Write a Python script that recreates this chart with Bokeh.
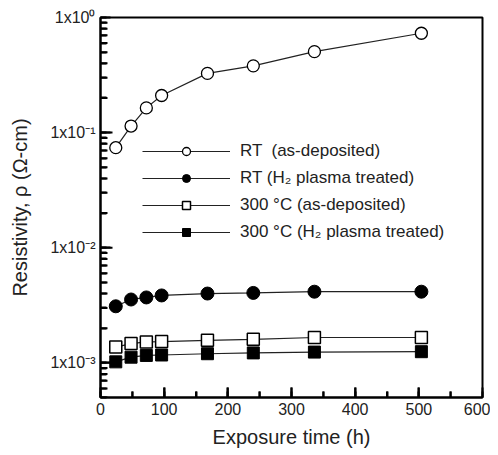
import math
from bokeh.plotting import figure
from bokeh.models import (LogTicker, SingleIntervalTicker, CustomJSTickFormatter,
                          Legend, LegendItem, Arrow, ColumnDataSource)
from bokeh.embed import file_html
from bokeh.resources import INLINE

# ---- data ----
hours = [24, 48, 72, 96, 168, 240, 336, 504]
rt_asdep = [0.074, 0.114, 0.164, 0.21, 0.327, 0.38, 0.505, 0.73]
rt_h2 = [3.1e-3, 3.55e-3, 3.7e-3, 3.85e-3, 4.0e-3, 4.05e-3, 4.15e-3, 4.15e-3]
t300_asdep = [1.37e-3, 1.47e-3, 1.52e-3, 1.53e-3, 1.57e-3, 1.6e-3, 1.66e-3, 1.66e-3]
t300_h2 = [1.02e-3, 1.12e-3, 1.16e-3, 1.17e-3, 1.2e-3, 1.22e-3, 1.24e-3, 1.25e-3]

series_labels = ["RT  (as-deposited)", "RT (H\u2082 plasma treated)",
                 "300 \u00b0C (as-deposited)", "300 \u00b0C (H\u2082 plasma treated)"]
y_tick_values = [1e-3, 1e-2, 1e-1, 1.0]
y_tick_labels = ["1x10\u207b\u00b3", "1x10\u207b\u00b2", "1x10\u207b\u00b9", "1x10\u2070"]
x_tick_values = [0, 100, 200, 300, 400, 500, 600]
x_label = "Exposure time (h)"
y_label = "Resistivity, \u03c1 (\u03a9-cm)"

X_RANGE = (0, 600)
Y_RANGE = (5e-4, 1.0)
FW, FH = 382, 380
FONT = "Liberation Sans"

p = figure(frame_width=FW, frame_height=FH, y_axis_type="log",
           x_range=X_RANGE, y_range=Y_RANGE,
           output_backend="svg", toolbar_location=None,
           min_border_left=100, min_border_right=8, min_border_top=17, min_border_bottom=50)

p.grid.visible = False
p.outline_line_color = "black"
p.outline_line_width = 2

for ax in (p.xaxis[0], p.yaxis[0]):
    ax.axis_line_width = 2
    ax.axis_line_color = "black"
    ax.major_tick_in = 10
    ax.major_tick_out = 0
    ax.minor_tick_in = 6
    ax.minor_tick_out = 0
    ax.major_tick_line_width = 2
    ax.minor_tick_line_width = 2
    ax.major_tick_line_color = "black"
    ax.minor_tick_line_color = "black"
    ax.major_label_text_font = FONT
    ax.major_label_text_font_size = "16px"
    ax.major_label_text_color = "#222222"
    ax.axis_label_text_font = FONT
    ax.axis_label_text_font_size = "20px"
    ax.axis_label_text_font_style = "normal"
    ax.axis_label_text_color = "#222222"

p.xaxis.ticker = SingleIntervalTicker(interval=100, num_minor_ticks=2)
p.yaxis.ticker = LogTicker(num_minor_ticks=10)
p.yaxis.formatter = CustomJSTickFormatter(
    args=dict(vals=y_tick_values, labs=y_tick_labels),
    code="""
    for (let i = 0; i < vals.length; i++) {
        if (Math.abs(Math.log10(tick) - Math.log10(vals[i])) < 1e-6) return labs[i];
    }
    return "";
    """)
p.xaxis.axis_label = x_label
p.yaxis.axis_label = y_label
p.xaxis.axis_label_standoff = 8
p.yaxis.axis_label_standoff = 16

LC = "#222222"
items = []

l1 = p.line(hours, rt_asdep, line_color=LC, line_width=1.2)
s1 = p.scatter(hours, rt_asdep, marker="circle", size=12, fill_color="white",
               line_color="black", line_width=1.3)
l2 = p.line(hours, rt_h2, line_color=LC, line_width=1.2)
s2 = p.scatter(hours, rt_h2, marker="circle", size=13, fill_color="black",
               line_color="black")
l3 = p.line(hours, t300_asdep, line_color=LC, line_width=1.2)
s3 = p.scatter(hours, t300_asdep, marker="square", size=12, fill_color="white",
               line_color="black", line_width=1.5)
l4 = p.line(hours, t300_h2, line_color=LC, line_width=1.2)
s4 = p.scatter(hours, t300_h2, marker="square", size=12, fill_color="black",
               line_color="black")

for lab, rs in zip(series_labels, [[l1, s1], [l2, s2], [l3, s3], [l4, s4]]):
    items.append(LegendItem(label=lab, renderers=rs))

legend = Legend(items=items, location=(42, 155),
                glyph_width=88, glyph_height=20, label_height=20,
                spacing=7, padding=0, margin=0, label_standoff=10,
                border_line_color=None, background_fill_alpha=0,
                label_text_font=FONT, label_text_font_size="17px",
                label_text_color="#222222")
p.add_layout(legend)

# ---- inward tick marks, drawn as head-less arrows on the overlay level ----
x_minor = [(a + b) / 2 for a, b in zip(x_tick_values[:-1], x_tick_values[1:])]
y_minor = []
for e in range(int(math.floor(math.log10(Y_RANGE[0]))), 0):
    for m in range(2, 10):
        v = m * 10 ** e
        if Y_RANGE[0] - 1e-12 <= v < Y_RANGE[1]:
            y_minor.append(v)
x_major_in = [v for v in x_tick_values if X_RANGE[0] < v < X_RANGE[1]]
y_major_in = [v for v in y_tick_values if Y_RANGE[0] < v < Y_RANGE[1]]


def x_px(n):  # data length of n screen pixels along x
    return n * (X_RANGE[1] - X_RANGE[0]) / FW


def y_px(n):  # multiplicative factor of n screen pixels along log y
    return (Y_RANGE[1] / Y_RANGE[0]) ** (n / FH)


tx0, ty0, tx1, ty1 = [], [], [], []
for vals, ln in ((y_major_in, 12), (y_minor, 7)):
    tx0 += [X_RANGE[0]] * len(vals)
    tx1 += [X_RANGE[0] + x_px(ln)] * len(vals)
    ty0 += list(vals)
    ty1 += list(vals)
for vals, ln in ((x_major_in, 10), (x_minor, 6)):
    tx0 += list(vals)
    tx1 += list(vals)
    ty0 += [Y_RANGE[0]] * len(vals)
    ty1 += [Y_RANGE[0] * y_px(ln)] * len(vals)

tick_src = ColumnDataSource(data=dict(x0=tx0, y0=ty0, x1=tx1, y1=ty1))
p.add_layout(Arrow(start=None, end=None, x_start="x0", y_start="y0",
                   x_end="x1", y_end="y1", source=tick_src,
                   line_color="black", line_width=2, level="overlay"))

open("out.html", "w").write(file_html(p, INLINE))
